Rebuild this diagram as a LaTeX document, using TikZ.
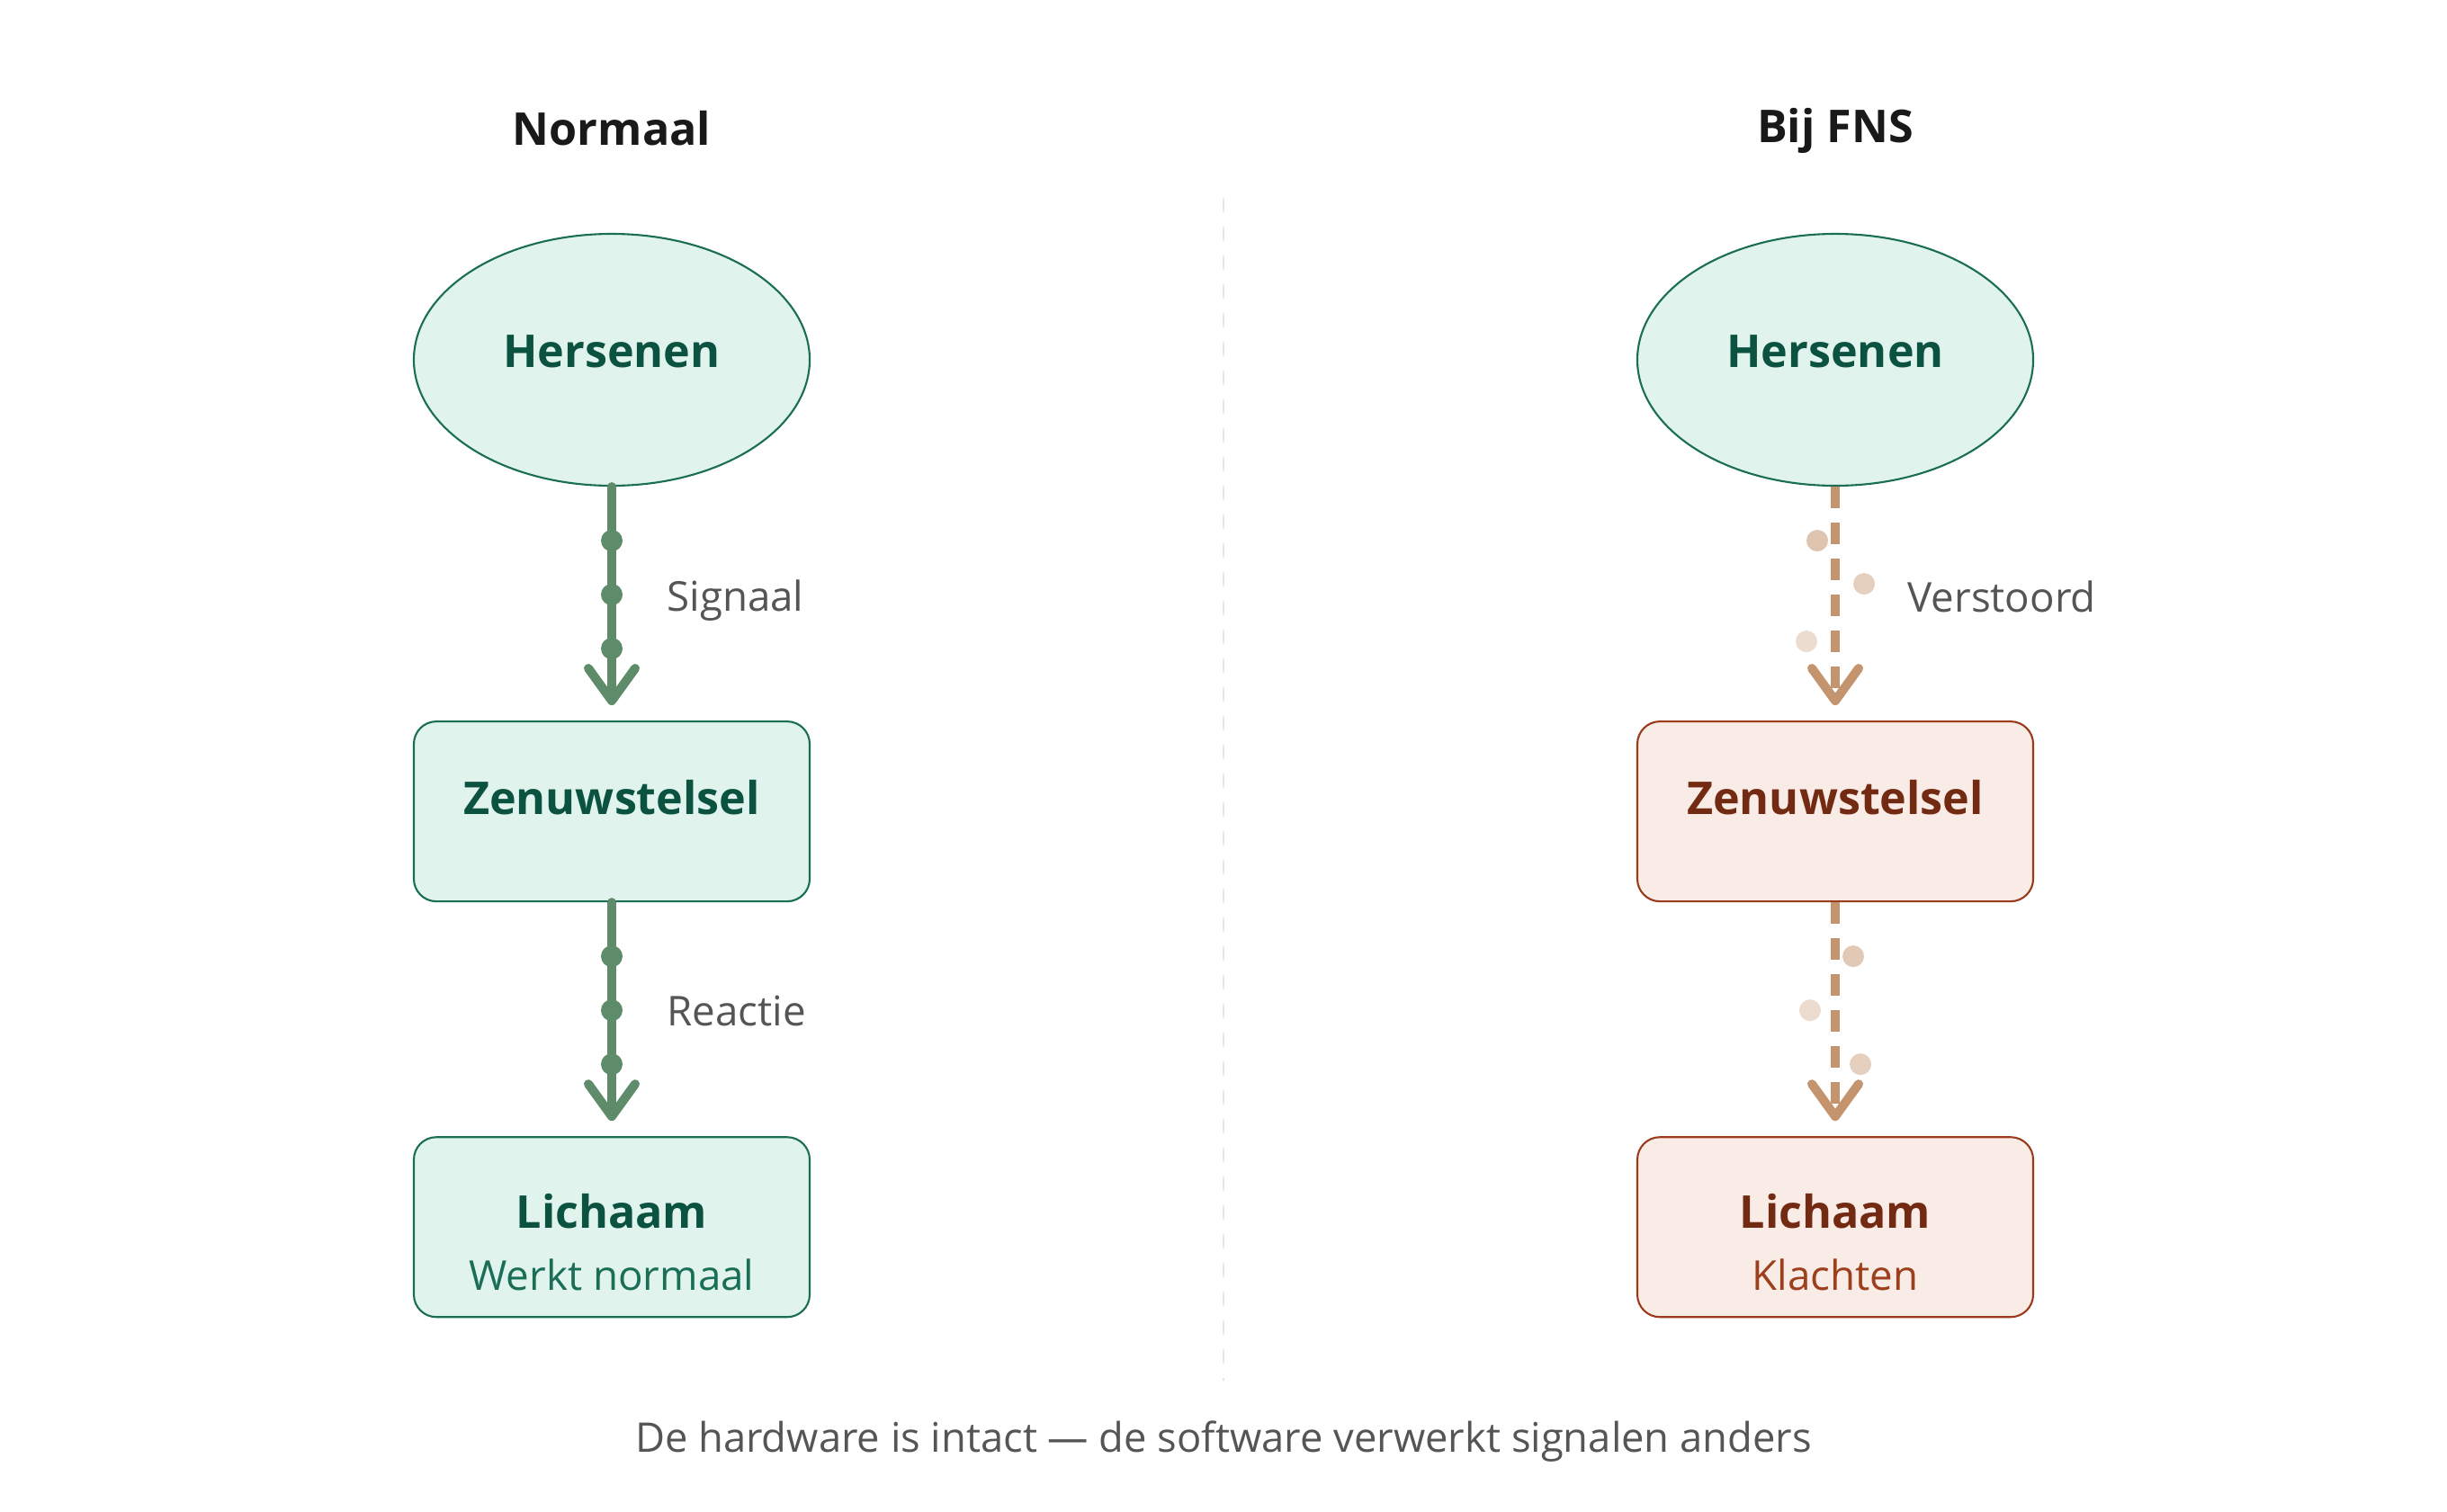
\documentclass[tikz,border=0pt]{standalone}
\usepackage{xcolor}
\usepackage{fontspec}
\setmainfont{Open Sans}
\usepackage{tikz}
\usetikzlibrary{shapes.geometric, arrows.meta, positioning, calc}
\definecolor{normline}{HTML}{5E8C6A}
\definecolor{normfill}{HTML}{E0F3EC}
\definecolor{normdraw}{HTML}{1B6E56}
\definecolor{normink}{HTML}{0B5340}
\definecolor{normsub}{HTML}{1B6E56}
\definecolor{fnsline}{HTML}{C4946E}
\definecolor{fnsfill}{HTML}{F9EBE5}
\definecolor{fnsdraw}{HTML}{9A3C1C}
\definecolor{fnsink}{HTML}{732A12}
\definecolor{fnssub}{HTML}{9C3F1C}
\definecolor{notegray}{HTML}{555555}
\definecolor{splitgray}{HTML}{E6E6E6}

\begin{document}
\begin{tikzpicture}[
        brain/.style={ellipse, draw=normdraw, fill=normfill, line width=0.6pt, minimum width=4.4cm, minimum height=2.8cm, inner sep=0pt, font=\fontsize{14.3}{17.5}\selectfont\bfseries, text=normink, text height=0.38cm, text depth=0.22cm},
        box/.style={rectangle, rounded corners=0.25cm, line width=0.6pt, minimum width=4.4cm, minimum height=2cm, inner sep=0pt, align=center, font=\fontsize{14.3}{17.5}\selectfont\bfseries},
        normbox/.style={box, draw=normdraw, fill=normfill, text=normink},
        fnsbox/.style={box, draw=fnsdraw, fill=fnsfill, text=fnsink},
        flow/.style={line width=0.1cm, -{Straight Barb[length=0.36cm, width=0.52cm, round]}, shorten >=0.17cm},
        normflow/.style={flow, normline, line cap=round},
        fnsflow/.style={flow, fnsline, dash pattern=on 0.24cm off 0.16cm},
        note/.style={anchor=west, font=\fontsize{13}{16}\selectfont, text=notegray},
        head/.style={font=\fontsize{14.3}{17.5}\selectfont\bfseries, text=black!90}
    ]
        \fill [white] (0,0) rectangle (27.2,-16.8);
        \useasboundingbox (0,0) rectangle (27.2,-16.8);

        \draw [splitgray, line width=0.02cm, dash pattern=on 0.16cm off 0.16cm] (13.6,-2.2) -- (13.6,-15.35);

        \node (kop1) [head] at (6.8,-1.43) {Normaal};
        \node (kop2) [head] at (20.4,-1.45) {Bij FNS};

        \node (hers1) [brain] at (6.8,-4.0) {Hersenen};
        \node (zen1) [normbox, text height=0.38cm, text depth=0.32cm, below=2.6cm of hers1] {Zenuwstelsel};
        \node (lich1) [normbox, below=2.6cm of zen1] {\rule{0pt}{0.72cm}Lichaam\\[2pt]{\fontsize{13}{16}\selectfont\mdseries\textcolor{normsub}{Werkt normaal}}};

        \node (hers2) [brain] at (20.4,-4.0) {Hersenen};
        \node (zen2) [fnsbox, text height=0.38cm, text depth=0.32cm, below=2.6cm of hers2] {Zenuwstelsel};
        \node (lich2) [fnsbox, below=2.6cm of zen2] {\rule{0pt}{0.72cm}Lichaam\\[2pt]{\fontsize{13}{16}\selectfont\mdseries\textcolor{fnssub}{Klachten}}};

        \draw [normflow] (hers1) -- (zen1);
        \draw [normflow] (zen1) -- (lich1);
        \foreach \d in {0.6,1.2,1.8} {
            \fill [normline] ($(hers1.south)+(0,-\d)$) circle (0.12cm);
            \fill [normline] ($(zen1.south)+(0,-\d)$) circle (0.12cm);
        }

        \draw [fnsflow] (hers2) -- (zen2);
        \draw [fnsflow] (zen2) -- (lich2);
        \foreach \dx/\dy/\op in {-0.2/0.6/0.54, 0.32/1.08/0.44, -0.32/1.72/0.32}
            \fill [fnsline, opacity=\op] ($(hers2.south)+(\dx,-\dy)$) circle (0.12cm);
        \foreach \dx/\dy/\op in {0.2/0.6/0.5, -0.28/1.2/0.32, 0.28/1.8/0.44}
            \fill [fnsline, opacity=\op] ($(zen2.south)+(\dx,-\dy)$) circle (0.12cm);

        \node (sig1) [note] at (7.29,-6.68) {Signaal};
        \node (rea1) [note] at (7.29,-11.24) {Reactie};
        \node (ver2) [note] at (21.08,-6.63) {Verstoord};

        \node (onder) [font=\fontsize{12.9}{16}\selectfont, text=notegray] at (13.6,-16.03) {De hardware is intact — de software verwerkt signalen anders};
    \end{tikzpicture}
\end{document}
